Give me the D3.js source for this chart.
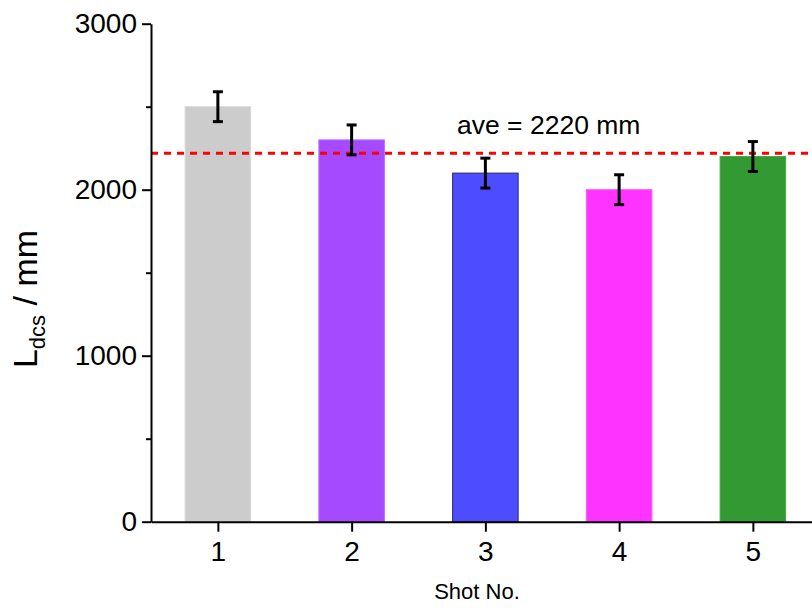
<!DOCTYPE html>
<html>
<head>
<meta charset="utf-8">
<script src="https://cdn.jsdelivr.net/npm/d3@7"></script>
<style>
  body { margin: 0; background: #fff; }
  text { font-family: "Liberation Sans", Arial, sans-serif; fill: #000; }
</style>
</head>
<body>
<div id="chart"></div>
<script>
// data
const shots = [1, 2, 3, 4, 5];
const lengths = [2500, 2300, 2100, 2000, 2200];
const errors = [90, 90, 90, 90, 90];
const fills = ["#cccccc", "#a64aff", "#4d4dff", "#ff33ff", "#339933"];
const strokes = ["#d8d8d8", "#b46cff", "#2b2b6e", "#ff55ff", "#4ea54e"];
const average = 2220;
const yTicks = [0, 1000, 2000, 3000];
const yMinor = [500, 1500, 2500];

const w = 812, h = 608;

const svg = d3.select("#chart").append("svg")
  .attr("width", w)
  .attr("height", h);

const x = d3.scaleLinear().domain([0.5, 5.5]).range([151, 819.75]);
const y = d3.scaleLinear().domain([0, 3000]).range([521.7, 23.7]);
const barW = x(1.49) - x(1);

// bars
svg.selectAll(".bar")
  .data(shots)
  .enter()
  .append("rect")
  .attr("class", "bar")
  .attr("x", (d) => x(d) - barW / 2)
  .attr("y", (d, i) => y(lengths[i]))
  .attr("width", barW)
  .attr("height", (d, i) => y(0) - y(lengths[i]))
  .attr("fill", (d, i) => fills[i])
  .attr("stroke", (d, i) => strokes[i])
  .attr("stroke-width", 1);

// average line
svg.append("line")
  .attr("x1", x(0.5))
  .attr("x2", w)
  .attr("y1", y(average))
  .attr("y2", y(average))
  .attr("stroke", "#ff0000")
  .attr("stroke-width", 3)
  .attr("stroke-dasharray", "7,6");

svg.append("text")
  .attr("x", 457)
  .attr("y", 134)
  .attr("font-size", 26.5)
  .text("ave = " + average + " mm");

// error bars
const eb = svg.selectAll(".err")
  .data(shots)
  .enter()
  .append("g")
  .attr("class", "err")
  .attr("stroke", "#000")
  .attr("stroke-width", 3);
eb.append("line")
  .attr("x1", (d) => x(d)).attr("x2", (d) => x(d))
  .attr("y1", (d, i) => y(lengths[i] + errors[i]))
  .attr("y2", (d, i) => y(lengths[i] - errors[i]));
eb.append("line")
  .attr("x1", (d) => x(d) - 5).attr("x2", (d) => x(d) + 5)
  .attr("y1", (d, i) => y(lengths[i] + errors[i]))
  .attr("y2", (d, i) => y(lengths[i] + errors[i]));
eb.append("line")
  .attr("x1", (d) => x(d) - 5).attr("x2", (d) => x(d) + 5)
  .attr("y1", (d, i) => y(lengths[i] - errors[i]))
  .attr("y2", (d, i) => y(lengths[i] - errors[i]));

// axes
svg.append("g")
  .attr("transform", "translate(0," + y(0) + ")")
  .call(d3.axisBottom(x).tickValues(shots).tickFormat(d3.format("d"))
    .tickSize(10).tickPadding(9).tickSizeOuter(0));
svg.append("g")
  .attr("transform", "translate(" + x(0.5) + ",0)")
  .call(d3.axisLeft(y).tickValues(yTicks).tickFormat(d3.format("d"))
    .tickSize(9).tickPadding(5).tickSizeOuter(0));
svg.append("g")
  .attr("transform", "translate(" + x(0.5) + ",0)")
  .call(d3.axisLeft(y).tickValues(yMinor).tickSize(5).tickFormat(""))
  .select(".domain").remove();

svg.selectAll(".domain, .tick line").attr("stroke", "#000").attr("stroke-width", 2);
svg.selectAll(".tick text")
  .attr("font-family", "Liberation Sans, Arial, sans-serif")
  .attr("font-size", 28)
  .attr("fill", "#000");

// axis titles
svg.append("text")
  .attr("x", 477)
  .attr("y", 599)
  .attr("text-anchor", "middle")
  .attr("font-size", 22)
  .text("Shot No.");

const yt = svg.append("text")
  .attr("transform", "translate(37,299)rotate(-90)")
  .attr("text-anchor", "middle")
  .attr("font-size", 34);
yt.append("tspan").text("L");
yt.append("tspan").attr("font-size", 22).attr("dy", 8).text("dcs");
yt.append("tspan").attr("dy", -8).text(" / mm");
</script>
</body>
</html>
